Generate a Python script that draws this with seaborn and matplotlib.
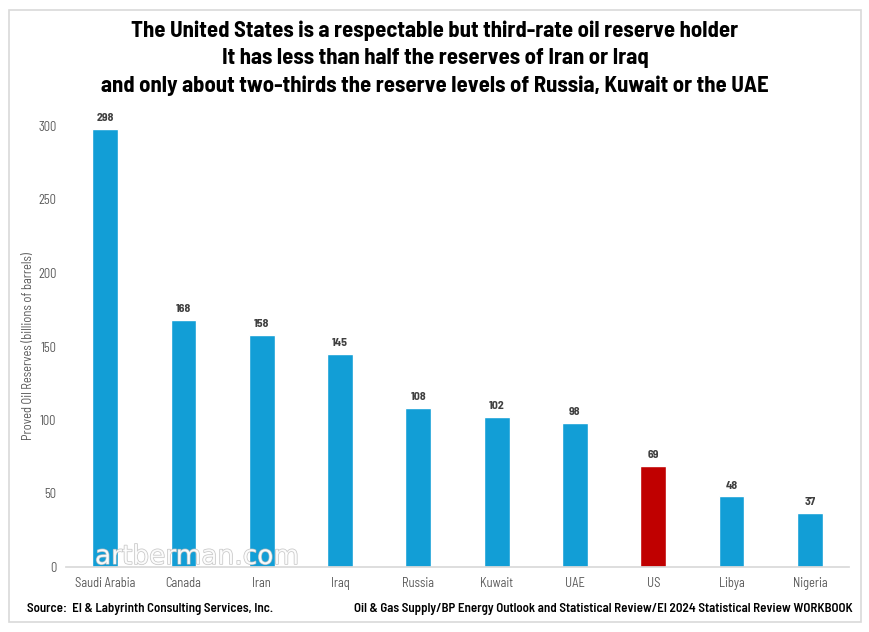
import matplotlib
matplotlib.use("Agg")
import matplotlib.pyplot as plt
import matplotlib.patheffects as pe
import seaborn as sns
import pandas as pd

# data
countries = ["Saudi Arabia", "Canada", "Iran", "Iraq", "Russia", "Kuwait", "UAE", "US", "Libya", "Nigeria"]
reserves = [298, 168, 158, 145, 108, 102, 98, 69, 48, 37]
highlight = "US"

blue = "#129ED6"
red = "#C00000"

sns.set_theme(style="white")
plt.rcParams["font.family"] = ["Barlow Semi Condensed", "DejaVu Sans"]

df = pd.DataFrame({"country": countries, "reserves": reserves})
palette = {c: (red if c == highlight else blue) for c in countries}

fig = plt.figure(figsize=(8.7, 6.32), dpi=100)
ax = fig.add_axes([66 / 870, 1 - 567 / 632, (849 - 66) / 870, (567 - 126) / 632])

sns.barplot(data=df, x="country", y="reserves", hue="country", palette=palette,
            width=0.33, legend=False, saturation=1, ax=ax)

ax.set_ylim(0, 300)
ax.set_yticks(range(0, 301, 50))
ax.set_xlabel("")
ax.set_ylabel("Proved Oil Reserves (billions of barrels)", color="#595959", fontsize=9, labelpad=2)
ax.tick_params(axis="both", colors="#595959", labelsize=9, length=0, pad=7)

for s in ["top", "right", "left"]:
    ax.spines[s].set_visible(False)
ax.spines["bottom"].set_color("#D9D9D9")

for i, v in enumerate(reserves):
    ax.text(i, v + 4, str(v), ha="center", va="bottom", fontsize=8.5, fontweight="bold",
            color="#404040", clip_on=False)

title = ("The United States is a respectable but third-rate oil reserve holder\n"
         "It has less than half the reserves of Iran or Iraq\n"
         "and only about two-thirds the reserve levels of Russia, Kuwait or the UAE")
fig.text(0.5, 1 - 58 / 632, title, ha="center", va="center", fontsize=16.4,
         fontweight="bold", color="black", linespacing=1.45)

fig.text(27 / 870, 1 - 609 / 632, "Source:  EI & Labyrinth Consulting Services, Inc.",
         ha="left", va="center", fontsize=9.3, fontweight="semibold", color="black")
fig.text(853 / 870, 1 - 609 / 632,
         "Oil & Gas Supply/BP Energy Outlook and Statistical Review/EI 2024 Statistical Review WORKBOOK",
         ha="right", va="center", fontsize=9.3, fontweight="semibold", color="black")

# watermark
fig.text(95 / 870, 1 - 557 / 632, "artberman.com", ha="left", va="center", fontsize=19,
         color="white", alpha=0.85, family=["DejaVu Sans"],
         path_effects=[pe.withStroke(linewidth=1, foreground="#BBBBBB")])

# light frame around the figure
frame = plt.Rectangle((9 / 870, 10 / 632), 852 / 870, 612 / 632, transform=fig.transFigure,
                      fill=False, edgecolor="#D9D9D9", linewidth=1.2)
fig.patches.append(frame)

fig.savefig("out.png", dpi=100)
